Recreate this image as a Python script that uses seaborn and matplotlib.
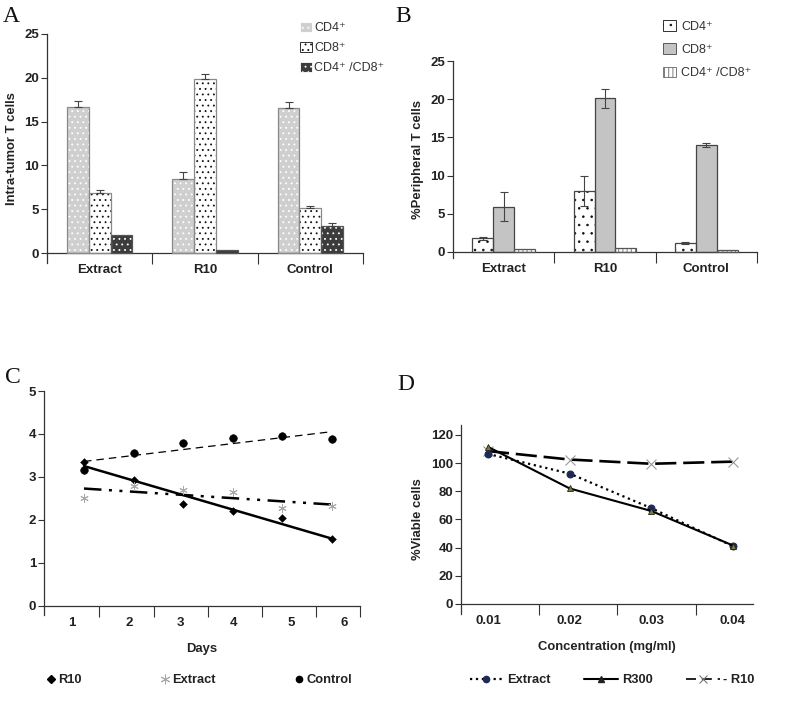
import numpy as np
import pandas as pd
import matplotlib
matplotlib.use("Agg")
import matplotlib.pyplot as plt
from matplotlib.patches import Patch, Rectangle
from matplotlib.lines import Line2D
import seaborn as sns

sns.set_theme(style="white")
plt.rcParams["font.family"] = ["Liberation Sans", "DejaVu Sans"]
plt.rcParams["hatch.linewidth"] = 0.6

# ---- data ----
groups = ["Extract", "R10", "Control"]
cells = ["CD4\u207a", "CD8\u207a", "CD4\u207a /CD8\u207a"]

# A: intra-tumor T cells
a_cd4 = [16.7, 8.4, 16.6]
a_cd8 = [6.9, 19.9, 5.1]
a_ratio = [2.0, 0.3, 3.1]
a_cd4_err = [0.7, 0.8, 0.6]
a_cd8_err = [0.3, 0.5, 0.3]
a_ratio_err = [0.0, 0.0, 0.3]

# B: peripheral T cells
b_cd4 = [1.8, 8.0, 1.2]
b_cd8 = [5.9, 20.1, 14.0]
b_ratio = [0.4, 0.5, 0.3]
b_cd4_err = [0.2, 2.0, 0.15]
b_cd8_err = [1.9, 1.2, 0.2]
b_ratio_err = [0.0, 0.0, 0.0]

# C: time course
days = [1, 2, 3, 4, 5, 6]
c_r10 = [3.35, 2.93, 2.38, 2.2, 2.05, 1.55]
c_extract = [2.52, 2.8, 2.7, 2.65, 2.28, 2.32]
c_control = [3.17, 3.55, 3.8, 3.9, 3.95, 3.88]

# D: viability
conc = [0.01, 0.02, 0.03, 0.04]
d_extract = [106.5, 92.5, 68, 41]
d_r300 = [111.5, 82, 66, 41.5]
d_r10 = [108.5, 102.5, 99.5, 101]

W, H = 787, 706
fig = plt.figure(figsize=(W / 100, H / 100), dpi=100)


def rect(l, t, r, b):
    return [l / W, 1 - b / H, (r - l) / W, (b - t) / H]


def style_axes(ax):
    sns.despine(ax=ax)
    for s in ("left", "bottom"):
        ax.spines[s].set_color("#333333")
        ax.spines[s].set_linewidth(0.9)
    ax.spines["bottom"].set_position(("data", 0))
    ax.tick_params(axis="y", which="major", direction="out", length=4, width=0.8,
                   color="#333333", labelsize=9.5, pad=1.5, left=True)
    ax.tick_params(axis="x", which="major", length=0, labelsize=9.5, pad=8)
    ax.tick_params(axis="x", which="minor", direction="out", length=8, width=0.8,
                   color="#333333", bottom=True)
    for lab in ax.get_yticklabels() + ax.get_xticklabels():
        lab.set_fontweight("bold")
        lab.set_color("#222222")


bold = dict(fontsize=9.4, fontweight="bold", color="#222222")


def bar_panel(ax, vals, errs, styles, ylim, lower_err):
    df = pd.DataFrame({
        "group": groups * 3,
        "cell": [c for c in cells for _ in groups],
        "value": [v for s in vals for v in s],
    })
    sns.barplot(data=df, x="group", y="value", hue="cell", order=groups,
                hue_order=cells, width=0.62, errorbar=None, legend=False,
                saturation=1, ax=ax)
    for cont, err, (fc, hatch, hc, ec) in zip(ax.containers, errs, styles):
        xs, ys = [], []
        for p in cont:
            p.set_facecolor(fc)
            p.set_hatch(hatch)
            p.set_edgecolor(hc)
            p.set_linewidth(0)
            ax.add_patch(Rectangle(p.get_xy(), p.get_width(), p.get_height(),
                                   fill=False, edgecolor=ec, lw=0.9, zorder=3))
            xs.append(p.get_x() + p.get_width() / 2)
            ys.append(p.get_height())
        e = np.array(err)
        yerr = [e, e] if lower_err else [np.zeros_like(e), e]
        keep = e > 0
        ax.errorbar(np.array(xs)[keep], np.array(ys)[keep],
                    yerr=[yerr[0][keep], yerr[1][keep]], fmt="none",
                    ecolor="#444444", elinewidth=0.8, capsize=3, capthick=0.8,
                    zorder=4)
    ax.set_xlim(-0.5, 2.5)
    ax.set_ylim(*ylim)
    ax.set_yticks([0, 5, 10, 15, 20, 25])
    ax.set_xticks([0, 1, 2])
    ax.set_xticklabels(groups)
    ax.set_xticks([0.5, 1.5, 2.5], minor=True)
    ax.set_xlabel("")
    style_axes(ax)


# ---- A ----
axA = fig.add_axes(rect(47, 34, 363, 263))
a_styles = [("#cfcfcf", "...", "white", "#8a8a8a"),
            ("white", "...", "#111111", "#8a8a8a"),
            ("#3c3c3c", "...", "white", "#555555")]
bar_panel(axA, [a_cd4, a_cd8, a_ratio], [a_cd4_err, a_cd8_err, a_ratio_err],
          a_styles, (-1.14, 25), lower_err=False)
axA.set_ylabel("Intra-tumor T cells", labelpad=5, **bold)
fig.legend(handles=[Patch(facecolor=fc, hatch=h, edgecolor=hc, lw=0.6, label=c)
                    for (fc, h, hc, ec), c in zip(a_styles, cells)],
           loc="upper left", bbox_to_anchor=(289 / W, 1 - 11 / H), frameon=False,
           fontsize=9, handlelength=0.9, handleheight=0.8, handletextpad=0.2,
           labelspacing=0.62, labelcolor="#333333")

# ---- B ----
axB = fig.add_axes(rect(453, 61, 757, 258))
b_styles = [("white", "..", "#111111", "#444444"),
            ("#c4c4c4", "", "#c4c4c4", "#444444"),
            ("white", "||||", "#666666", "#555555")]
bar_panel(axB, [b_cd4, b_cd8, b_ratio], [b_cd4_err, b_cd8_err, b_ratio_err],
          b_styles, (-0.8, 25), lower_err=True)
axB.set_ylabel("%Peripheral T cells", labelpad=5, **bold)
fig.legend(handles=[Patch(facecolor=fc, hatch=h, edgecolor=ec if h == "" else hc,
                          lw=0.6, label=c)
                    for (fc, h, hc, ec), c in zip(b_styles, cells)],
           loc="upper left", bbox_to_anchor=(652 / W, 1 - 9 / H), frameon=False,
           fontsize=9, handlelength=1.0, handleheight=0.9, handletextpad=0.45,
           labelspacing=0.85, labelcolor="#333333")

# ---- C ----
axC = fig.add_axes(rect(44, 391, 360, 615))
ext_gray = "#a8a8a8"
sns.regplot(x=days, y=c_control, scatter=False, ci=None, ax=axC,
            line_kws=dict(color="black", lw=0.9, dashes=(6, 4)))
sns.regplot(x=days, y=c_r10, scatter=False, ci=None, ax=axC,
            line_kws=dict(color="black", lw=1.8))
sns.regplot(x=days, y=c_extract, scatter=False, ci=None, ax=axC,
            line_kws=dict(color="black", lw=1.8, dashes=(7, 3, 1.2, 3, 1.2, 3)))
sns.scatterplot(x=days, y=c_control, marker="o", s=30, color="black",
                edgecolor="black", ax=axC, zorder=5)
sns.scatterplot(x=days, y=c_r10, marker="D", s=16, color="black",
                edgecolor="black", ax=axC, zorder=5)
sns.scatterplot(x=days, y=c_extract, marker=(6, 2, 0), s=30, color=ext_gray,
                linewidth=0.7, ax=axC, zorder=5)
axC.set_xlim(0.194, 6.565)
axC.set_ylim(-0.21, 5)
axC.set_yticks([0, 1, 2, 3, 4, 5])
axC.set_xticks([0.76, 1.91, 2.94, 4.01, 5.18, 6.24])
axC.set_xticklabels([str(d) for d in days])
axC.set_xticks([1.30, 2.41, 3.50, 4.59, 5.68, 6.565], minor=True)
style_axes(axC)
axC.set_xlabel("Days", labelpad=10, **bold)
axC.set_ylabel("")
c_handles = [
    Line2D([], [], ls="none", marker="D", ms=4.5, color="black", label="R10"),
    Line2D([], [], ls="none", marker=(6, 2, 0), ms=7, mew=0.7, color=ext_gray,
           label="Extract"),
    Line2D([], [], ls="none", marker="o", ms=4.5, color="black", label="Control"),
]
fig.legend(handles=c_handles, loc="center left", bbox_to_anchor=(34 / W, 1 - 680 / H),
           ncol=3, frameon=False, handlelength=0.8, handletextpad=0.2,
           columnspacing=6.0, prop=dict(size=9.3, weight="bold"),
           labelcolor="#222222")

# ---- D ----
axD = fig.add_axes(rect(461, 425, 753, 614))
sns.lineplot(x=conc, y=d_r10, ax=axD, color="black", lw=1.9, dashes=False,
             linestyle=(0, (8, 2.6)), marker="x", ms=7, mew=0.8, mec="#9a9a9a")
sns.lineplot(x=conc, y=d_extract, ax=axD, color="black", lw=1.6, linestyle=":",
             marker="o", ms=5, mfc="#1c2a55", mec="#1c2a55")
sns.lineplot(x=conc, y=d_r300, ax=axD, color="black", lw=1.5, linestyle="-",
             marker="^", ms=5, mfc="#7a7f30", mec="#222222", mew=0.6)
axD.set_xlim(0.0067, 0.04245)
axD.set_ylim(-7.1, 127)
axD.set_yticks([0, 20, 40, 60, 80, 100, 120])
axD.set_xticks(conc)
axD.set_xticklabels([f"{c:.2f}" for c in conc])
axD.set_xticks([0.01624, 0.02579, 0.03546], minor=True)
style_axes(axD)
axD.set_xlabel("Concentration (mg/ml)", labelpad=10, **bold)
axD.set_ylabel("%Viable cells", labelpad=5, **bold)
d_handles = [
    Line2D([], [], color="black", lw=1.6, ls=":", marker="o", ms=4.5,
           mfc="#1c2a55", mec="#1c2a55", label="Extract"),
    Line2D([], [], color="black", lw=1.5, ls="-", marker="^", ms=4.5,
           mfc="#222222", mec="#222222", label="R300"),
    Line2D([], [], color="black", lw=1.2, ls=(0, (6, 3.5)), marker="x", ms=6,
           mew=0.8, mec="#777777", label="- R10"),
]
fig.legend(handles=d_handles, loc="center left", bbox_to_anchor=(458 / W, 1 - 680 / H),
           ncol=3, frameon=False, handlelength=2.6, handletextpad=0.3,
           columnspacing=2.6, prop=dict(size=9.3, weight="bold"),
           labelcolor="#222222")

# ---- panel letters ----
for letter, x, y in [("A", 3, 22), ("B", 395, 22), ("C", 5, 383), ("D", 397, 390)]:
    fig.text(x / W, 1 - y / H, letter, family="Liberation Serif", fontsize=17,
             va="baseline", ha="left", color="#111111")

fig.savefig("out.png", dpi=100)
